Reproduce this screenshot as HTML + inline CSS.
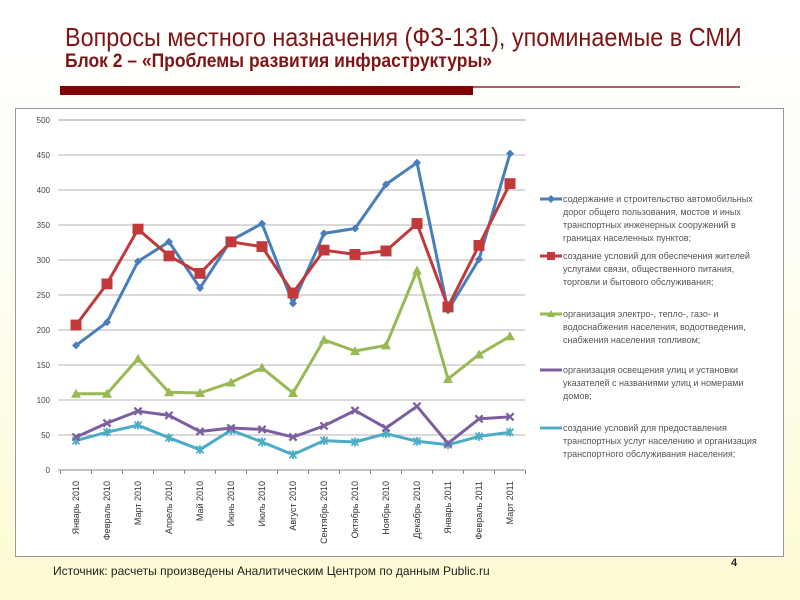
<!DOCTYPE html>
<html><head><meta charset="utf-8"><style>
body{margin:0;width:800px;height:600px;overflow:hidden;background:linear-gradient(to bottom,#ffffff 0%,#fffef6 40%,#fdfbd2 100%);font-family:"Liberation Sans",sans-serif;position:relative}
.t{position:absolute;left:65px;top:22px;font-size:26px;color:#7f1417;white-space:nowrap;transform:scaleX(0.9);transform-origin:0 0}
.s{position:absolute;left:65px;top:51px;font-weight:bold;font-size:19px;color:#7f1417;white-space:nowrap;transform:scaleX(0.92);transform-origin:0 0}
</style></head><body>
<div class="t">Вопросы местного назначения (ФЗ-131), упоминаемые в СМИ</div>
<div class="s">Блок 2 – «Проблемы развития инфраструктуры»</div>
<svg width="800" height="600" style="position:absolute;left:0;top:0">
<defs>
<marker id="mb" viewBox="-5 -5 10 10" markerWidth="8" markerHeight="8" refX="0" refY="0" markerUnits="userSpaceOnUse"><path d="M0-5L5 0 0 5-5 0Z" fill="#4a7ebb"/></marker>
<marker id="mr" viewBox="-5 -5 10 10" markerWidth="11" markerHeight="11" refX="0" refY="0" markerUnits="userSpaceOnUse"><rect x="-5" y="-5" width="10" height="10" fill="#c0393b"/></marker>
<marker id="mg" viewBox="-5 -5 10 10" markerWidth="10" markerHeight="10" refX="0" refY="0" markerUnits="userSpaceOnUse"><path d="M0-5L5 4-5 4Z" fill="#98b954"/></marker>
<marker id="mp" viewBox="-5 -5 10 10" markerWidth="9" markerHeight="9" refX="0" refY="0" markerUnits="userSpaceOnUse"><path d="M-4-4L4 4M-4 4L4-4" stroke="#7d5fa0" stroke-width="2.5"/></marker>
<marker id="mc" viewBox="-5 -5 10 10" markerWidth="9" markerHeight="9" refX="0" refY="0" markerUnits="userSpaceOnUse"><path d="M-4-4L4 4M-4 4L4-4M0-5V5" stroke="#4bacc6" stroke-width="2"/></marker>
</defs>
<rect x="60" y="86" width="413" height="9" fill="#800000"/>
<line x1="473" y1="87" x2="740" y2="87" stroke="#800000" stroke-width="1.2"/>
<rect x="15.5" y="108.5" width="768" height="448" fill="#fff" stroke="#999"/>
<g stroke="#b4b4b4" stroke-width="1">
<line x1="58" y1="120" x2="525" y2="120" stroke="#999"/><line x1="58" y1="155" x2="525" y2="155"/><line x1="58" y1="190" x2="525" y2="190"/><line x1="58" y1="225" x2="525" y2="225"/><line x1="58" y1="260" x2="525" y2="260"/><line x1="58" y1="295" x2="525" y2="295"/><line x1="58" y1="330" x2="525" y2="330"/><line x1="58" y1="365" x2="525" y2="365"/><line x1="58" y1="400" x2="525" y2="400"/><line x1="58" y1="435" x2="525" y2="435"/><line x1="58" y1="470" x2="525" y2="470" stroke="#888"/>
</g>
<g stroke="#888"><path d="M60.5 470v4M91.5 470v4M122.5 470v4M153.5 470v4M184.5 470v4M215.5 470v4M246.5 470v4M277.5 470v4M308.5 470v4M339.5 470v4M370.5 470v4M401.5 470v4M432.5 470v4M463.5 470v4M494.5 470v4M525.5 470v4"/></g>
<g font-size="8" fill="#444" text-anchor="end">
<text x="50" y="123">500</text><text x="50" y="158">450</text><text x="50" y="193">400</text><text x="50" y="228">350</text><text x="50" y="263">300</text><text x="50" y="298">250</text><text x="50" y="333">200</text><text x="50" y="368">150</text><text x="50" y="403">100</text><text x="50" y="438">50</text><text x="50" y="473">0</text>
</g>
<g font-size="9" fill="#333" text-anchor="end">
<text transform="translate(79,481) rotate(-90)">Январь 2010</text>
<text transform="translate(110,481) rotate(-90)">Февраль 2010</text>
<text transform="translate(141,481) rotate(-90)">Март 2010</text>
<text transform="translate(172,481) rotate(-90)">Апрель 2010</text>
<text transform="translate(203,481) rotate(-90)">Май 2010</text>
<text transform="translate(234,481) rotate(-90)">Июнь 2010</text>
<text transform="translate(265,481) rotate(-90)">Июль 2010</text>
<text transform="translate(296,481) rotate(-90)">Август 2010</text>
<text transform="translate(327,481) rotate(-90)">Сентябрь 2010</text>
<text transform="translate(358,481) rotate(-90)">Октябрь 2010</text>
<text transform="translate(389,481) rotate(-90)">Ноябрь 2010</text>
<text transform="translate(420,481) rotate(-90)">Декабрь 2010</text>
<text transform="translate(451,481) rotate(-90)">Январь 2011</text>
<text transform="translate(482,481) rotate(-90)">Февраль 2011</text>
<text transform="translate(513,481) rotate(-90)">Март 2011</text>
</g>
<g fill="none" stroke-width="3" stroke-linejoin="round">
<polyline stroke="#4bacc6" marker-start="url(#mc)" marker-mid="url(#mc)" marker-end="url(#mc)" points="76,440.6 107,432.2 138,425.2 169,437.8 200,449.7 231,430.1 262,442 293,454.6 324,440.6 355,442 386,433.6 417,441.3 448,444.8 479,436.4 510,432.2"/>
<polyline stroke="#7d5fa0" marker-start="url(#mp)" marker-mid="url(#mp)" marker-end="url(#mp)" points="76,437.1 107,423.1 138,411.2 169,415.4 200,431.5 231,428 262,429.4 293,437.1 324,425.9 355,410.5 386,428 417,406.3 448,443.4 479,418.9 510,416.8"/>
<polyline stroke="#98b954" marker-start="url(#mg)" marker-mid="url(#mg)" marker-end="url(#mg)" points="76,393.7 107,393.7 138,358.7 169,392.3 200,393 231,382.5 262,367.8 293,393 324,339.8 355,351 386,345.4 417,270.5 448,379 479,354.5 510,336.3"/>
<polyline stroke="#4a7ebb" marker-start="url(#mb)" marker-mid="url(#mb)" marker-end="url(#mb)" points="76,345.4 107,322.3 138,261.4 169,241.8 200,288 231,240.4 262,223.6 293,303.4 324,233.4 355,228.5 386,184.4 417,162.7 448,310.4 479,259.3 510,153.6"/>
<polyline stroke="#c0393b" marker-start="url(#mr)" marker-mid="url(#mr)" marker-end="url(#mr)" points="76,325.1 107,283.8 138,229.2 169,255.8 200,273.3 231,241.8 262,246.7 293,292.9 324,250.2 355,254.4 386,250.9 417,223.6 448,306.9 479,245.3 510,183.7"/>
</g>
<g stroke-width="3">
<line x1="540" y1="199" x2="562" y2="199" stroke="#4a7ebb"/><path d="M551 195l4 4-4 4-4-4z" fill="#4a7ebb"/>
<line x1="540" y1="256" x2="562" y2="256" stroke="#c0393b"/><rect x="547" y="252" width="8" height="8" fill="#c0393b"/>
<line x1="540" y1="314" x2="562" y2="314" stroke="#98b954"/><path d="M551 310l4 7h-8z" fill="#98b954"/>
<line x1="540" y1="370" x2="562" y2="370" stroke="#7d5fa0"/>
<line x1="540" y1="428" x2="562" y2="428" stroke="#4bacc6"/>
</g>
<g font-size="9" fill="#555">
<text x="563" y="202">содержание и строительство автомобильных</text>
<text x="563" y="215">дорог общего пользования, мостов и иных</text>
<text x="563" y="228">транспортных инженерных сооружений в</text>
<text x="563" y="241">границах населенных пунктов;</text>
<text x="563" y="259">создание условий для обеспечения жителей</text>
<text x="563" y="272">услугами связи, общественного питания,</text>
<text x="563" y="285">торговли и бытового обслуживания;</text>
<text x="563" y="317">организация электро-, тепло-, газо- и</text>
<text x="563" y="330">водоснабжения населения, водоотведения,</text>
<text x="563" y="343">снабжения населения топливом;</text>
<text x="563" y="373">организация освещения улиц и установки</text>
<text x="563" y="386">указателей с названиями улиц и номерами</text>
<text x="563" y="399">домов;</text>
<text x="563" y="431">создание условий для предоставления</text>
<text x="563" y="444">транспортных услуг населению и организация</text>
<text x="563" y="457">транспортного обслуживания населения;</text>
</g>
<text x="731" y="566" font-size="11" font-weight="bold" fill="#222">4</text>
<text x="53" y="575" font-size="12" fill="#222">Источник: расчеты произведены Аналитическим Центром по данным Public.ru</text>
</svg>
</body></html>
